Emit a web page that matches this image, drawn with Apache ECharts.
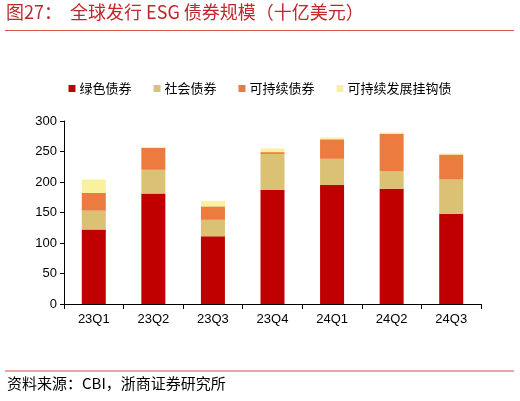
<!DOCTYPE html>
<html>
<head>
<meta charset="utf-8">
<script src="https://cdn.jsdelivr.net/npm/echarts@6/dist/echarts.min.js"></script>
<style>
  html, body { margin: 0; padding: 0; background: #fff; }
  #chart { width: 520px; height: 401px; }
</style>
</head>
<body>
<div id="chart"></div>
<script type="text/javascript">
  // 季度
  var quarters = ['23Q1', '23Q2', '23Q3', '23Q4', '24Q1', '24Q2', '24Q3'];
  // 十亿美元
  var greenBonds = [122, 181, 111, 187, 195, 189, 148];
  var socialBonds = [31, 39, 27, 59, 43, 29, 56];
  var sustainBonds = [29, 36, 22, 3, 32, 61, 41];
  var slbBonds = [22, 1, 9, 6, 3, 2, 2];
  var yTicks = [0, 50, 100, 150, 200, 250, 300];

  var cjk = '"Noto Sans CJK SC", sans-serif';
  var myChart = echarts.init(document.getElementById('chart'));

  function bar(name, data, color) {
    return {
      name: name,
      type: 'bar',
      stack: 'total',
      barWidth: 24,
      data: data,
      itemStyle: { color: color },
      emphasis: { disabled: true }
    };
  }

  var option = {
    animation: false,
    backgroundColor: '#fff',
    legend: {
      top: 77,
      left: 'center',
      itemWidth: 7,
      itemHeight: 7,
      itemGap: 22,
      icon: 'rect',
      textStyle: { fontFamily: cjk, fontSize: 13, color: '#000', padding: [0, 0, 0, -1] },
      data: ['绿色债券', '社会债券', '可持续债券', '可持续发展挂钩债']
    },
    grid: { left: 64, right: 39, top: 121, bottom: 97 },
    xAxis: {
      type: 'category',
      data: quarters,
      axisLine: { lineStyle: { color: '#000', width: 1 } },
      axisTick: { show: true, length: 5, lineStyle: { color: '#000' } },
      axisLabel: { color: '#000', fontSize: 13, fontFamily: 'Liberation Sans, Arial', margin: 9 }
    },
    yAxis: {
      type: 'value',
      min: yTicks[0],
      max: yTicks[yTicks.length - 1],
      interval: 50,
      axisLine: { show: true, lineStyle: { color: '#000', width: 1 } },
      axisTick: { show: true, length: 4, lineStyle: { color: '#000' } },
      splitLine: { show: false },
      axisLabel: { color: '#000', fontSize: 13, fontFamily: 'Liberation Sans, Arial', margin: 7 }
    },
    series: [
      bar('绿色债券', greenBonds, '#c00000'),
      bar('社会债券', socialBonds, '#dbc173'),
      bar('可持续债券', sustainBonds, '#eb7b3f'),
      bar('可持续发展挂钩债', slbBonds, '#f9f0a0')
    ],
    graphic: [
      {
        type: 'text', left: 6, top: 3,
        style: { text: '图27：  全球发行 ESG 债券规模（十亿美元）', fill: '#c0282d', font: '18px ' + cjk }
      },
      {
        type: 'line', shape: { x1: 5, y1: 30.5, x2: 514, y2: 30.5 },
        style: { stroke: '#d9534f', lineWidth: 1.2 }
      },
      {
        type: 'line', shape: { x1: 5, y1: 371, x2: 514, y2: 371 },
        style: { stroke: '#d9534f', lineWidth: 1.2 }
      },
      {
        type: 'text', left: 7, top: 376,
        style: { text: '资料来源：CBI，浙商证券研究所', fill: '#000', font: '15px ' + cjk }
      }
    ]
  };
  myChart.setOption(option);
</script>
</body>
</html>
